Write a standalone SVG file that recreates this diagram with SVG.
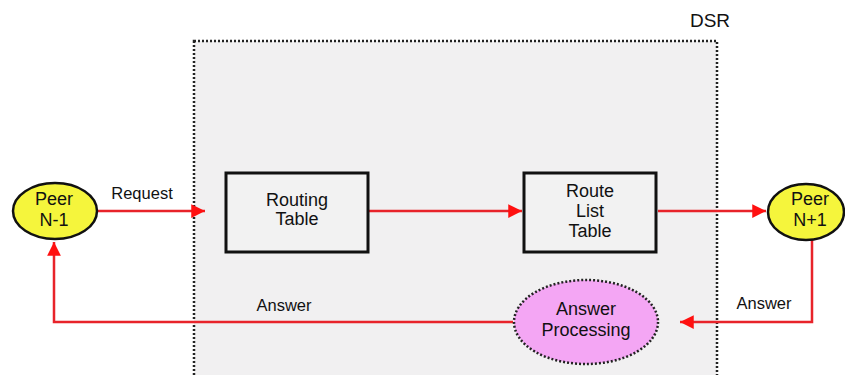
<svg xmlns="http://www.w3.org/2000/svg" width="845" height="375" viewBox="0 0 845 375">
<defs>
<style>
text{font-family:"Liberation Sans",Arial,sans-serif;font-size:18px;fill:#111;}
.c{text-anchor:middle;}
.lbl{font-size:16.5px;}
.box{fill:#f2f2f2;stroke:#111;stroke-width:3;}
.peer{fill:#f5f53c;stroke:#111;stroke-width:2.5;}
.conn{fill:none;stroke:#e8232a;stroke-width:2.5;}
</style>
<marker id="ah" viewBox="0 0 10 10" refX="10" refY="5" markerWidth="6.5" markerHeight="5.5" markerUnits="strokeWidth" orient="auto">
<path d="M0,0 L10,5 L0,10 z" fill="#ff1010"/>
</marker>
</defs>
<rect width="845" height="375" fill="#ffffff"/>
<g id="dsr">
<rect x="194" y="41" width="523" height="340" fill="#f1f0f1" stroke="#222" stroke-width="2.5" stroke-dasharray="2,2"/>
<text x="710" y="27" class="c" style="font-size:19px">DSR</text>
</g>
<g id="connectors">
<line class="conn" x1="98" y1="211" x2="205" y2="211" marker-end="url(#ah)"/>
<line class="conn" x1="369" y1="211" x2="522" y2="211" marker-end="url(#ah)"/>
<line class="conn" x1="658" y1="211" x2="766" y2="211" marker-end="url(#ah)"/>
<polyline class="conn" points="812,240 812,322 680,322" marker-end="url(#ah)"/>
<polyline class="conn" points="513,322 54,322 54,242" marker-end="url(#ah)"/>
<text x="142" y="199" class="c lbl">Request</text>
<text x="284" y="311" class="c lbl">Answer</text>
<text x="764" y="309" class="c lbl">Answer</text>
</g>
<g id="peer-n-1">
<ellipse class="peer" cx="55" cy="211" rx="42" ry="28"/>
<text x="54" y="205" class="c">Peer</text>
<text x="54" y="226" class="c">N-1</text>
</g>
<g id="routing-table">
<rect class="box" x="226" y="173" width="142" height="79"/>
<text x="297" y="206" class="c">Routing</text>
<text x="297" y="225" class="c">Table</text>
</g>
<g id="route-list-table">
<rect class="box" x="524" y="173" width="132" height="79"/>
<text x="590" y="197" class="c">Route</text>
<text x="590" y="217" class="c">List</text>
<text x="590" y="237" class="c">Table</text>
</g>
<g id="peer-n-plus-1">
<ellipse class="peer" cx="806" cy="212" rx="38" ry="28"/>
<text x="810" y="205" class="c">Peer</text>
<text x="810" y="226" class="c">N+1</text>
</g>
<g id="answer-processing">
<ellipse cx="586" cy="322" rx="72" ry="42" fill="#f4a6f4" stroke="#222" stroke-width="2.5" stroke-dasharray="2,2"/>
<text x="586" y="315" class="c">Answer</text>
<text x="586" y="336" class="c">Processing</text>
</g>
</svg>
